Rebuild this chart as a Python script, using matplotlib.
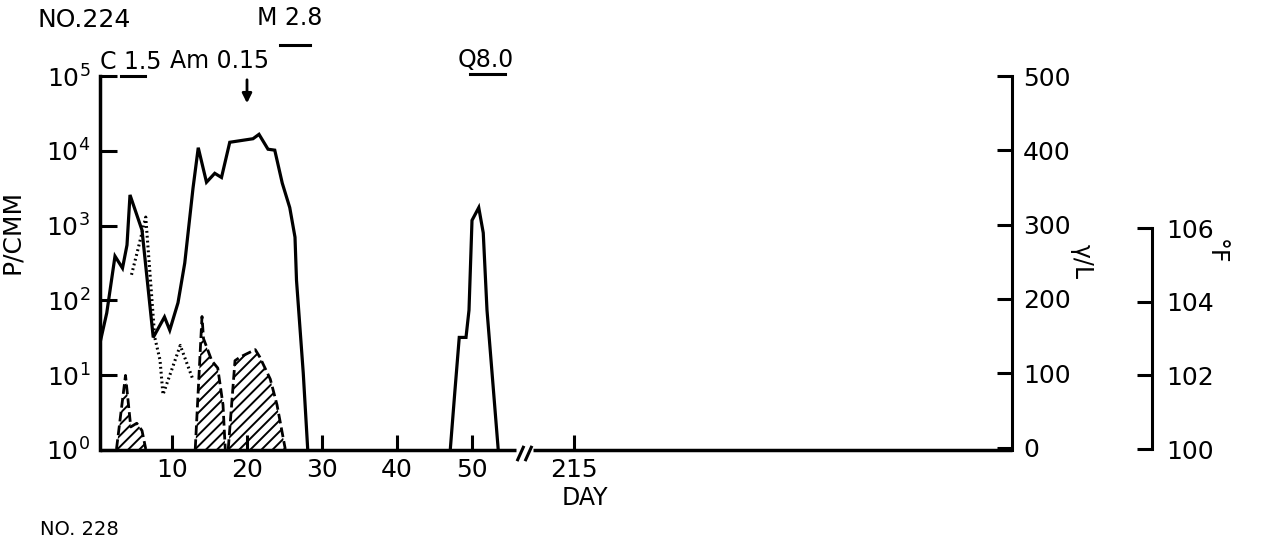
import numpy as np
import matplotlib
matplotlib.use("Agg")
import matplotlib.pyplot as plt

# ---------------- data ----------------
# asexual parasites per cmm (solid line)
par_day = [0.4, 1.3, 2.4, 3.4, 4.0, 4.4, 6.0, 7.5, 9.0, 9.7, 10.8, 11.7, 12.8, 13.5,
           14.6, 15.7, 16.6, 17.7, 20.8, 21.6, 22.8, 23.7, 24.7, 25.7, 26.4, 26.6,
           27.5, 28.1]
par_val = [27, 68, 390, 270, 550, 2570, 870, 32, 60, 40, 93, 316, 3160, 11000,
           3800, 5000, 4400, 13000, 14500, 16600, 10500, 10200, 3700, 1740, 700, 186,
           10.7, 1]
# relapse
rel_day = [47.1, 47.7, 48.3, 49.2, 49.6, 50.0, 50.9, 51.5, 52.0, 53.5]
rel_val = [1, 5.8, 32, 32, 74, 1175, 1740, 800, 74, 1]
# gametocytes (dotted line)
gam_day = [4.6, 5.5, 6.5, 7.7, 8.4, 8.8, 11.1, 12.8]
gam_val = [220, 500, 1300, 32, 16, 5.5, 25, 8.7]
# temperature, deg F (hatched, dashed)
fev1_day = [2.6, 3.8, 4.5, 5.3, 6.0, 6.5]
fev1_val = [100.0, 102.0, 100.6, 100.7, 100.5, 100.0]
fev2_day = [13.1, 14.0, 14.2, 15.3, 16.1, 16.8, 17.1]
fev2_val = [100.0, 103.6, 103.0, 102.4, 102.2, 101.2, 100.0]
fev3_day = [17.5, 18.4, 19.1, 21.1, 21.7, 23.1, 24.0, 25.1]
fev3_val = [100.0, 102.4, 102.5, 102.7, 102.5, 101.9, 101.2, 100.0]

x_ticks = [10, 20, 30, 40, 50, 215]
x_ticklabels = ["10", "20", "30", "40", "50", "215"]
y_ticks = [1, 10, 100, 1000, 1e4, 1e5]
y_ticklabels = [r"$10^0$", r"$10^1$", r"$10^2$", r"$10^3$", r"$10^4$", r"$10^5$"]
gl_ticks = [0, 100, 200, 300, 400, 500]
f_ticks = [100, 102, 104, 106]

# drug courses
c_course = [3.2, 6.4]
m_course = [24.4, 28.4]
q_course = [49.7, 54.4]
am_day = 20

# ---------------- figure ----------------
W, H = 1264, 541
fig = plt.figure(figsize=(W / 100, H / 100), dpi=100)
plt.rcParams['hatch.linewidth'] = 1.4
FS = 17
TFS = 18


def fx(px):
    return px / W


def fy(py):
    return 1 - py / H


ax = fig.add_axes([fx(100), fy(450), (1012 - 100) / W, (450 - 76) / H])

GAP = 57.0
OFF = 151.4


def fwd(d):
    d = np.asarray(d, dtype=float)
    return np.where(d <= GAP, d, np.maximum(d - OFF, GAP))


def inv(x):
    x = np.asarray(x, dtype=float)
    return np.where(x <= GAP, x, x + OFF)


ax.set_xscale('function', functions=(fwd, inv))
ax.set_yscale('log')
ax.set_xlim(0.4, 273.4)
ax.set_ylim(1, 1e5)

LW = 2.3
ax.plot(par_day, par_val, color='black', lw=LW, solid_joinstyle='miter')
ax.plot(rel_day, rel_val, color='black', lw=LW, solid_joinstyle='miter')
ax.plot(gam_day, gam_val, color='black', lw=2.2, linestyle=(0, (0.6, 1.0)),
        dash_capstyle='butt')

for s in ['top', 'right', 'bottom']:
    ax.spines[s].set_visible(False)
ax.spines['left'].set_linewidth(2.5)

# bottom axis with break
xt = ax.get_xaxis_transform()
ax.plot([0.4, 55.9], [0, 0], transform=xt, color='black', lw=2.5, clip_on=False,
        solid_capstyle='butt')
ax.plot([209.5, 273.4], [0, 0], transform=xt, color='black', lw=2.5, clip_on=False,
        solid_capstyle='butt')
for bx in [56.4, 208.8]:
    ax.plot([bx], [-0.008], transform=xt, marker=[(-0.45, -1), (0.45, 1)],
            markersize=11, mew=2.2, color='black', clip_on=False)

ax.set_xticks(x_ticks)
ax.set_xticklabels(x_ticklabels)
ax.xaxis.set_minor_locator(matplotlib.ticker.NullLocator())
ax.tick_params(axis='x', direction='in', length=11, width=2.2, labelsize=TFS, pad=6)
ax.set_yticks(y_ticks)
ax.set_yticklabels(y_ticklabels)
ax.yaxis.set_minor_locator(matplotlib.ticker.NullLocator())
ax.tick_params(axis='y', direction='in', length=12, width=2.2, labelsize=TFS, pad=7)
ax.set_ylabel("P/CMM", fontsize=TFS)
ax.yaxis.set_label_coords(-0.083, 0.583)
ax.set_xlabel("DAY", fontsize=FS)
ax.xaxis.set_label_coords((585 - 100) / 912, -(486 - 450) / 374)

# gamma / L axis
ax2 = ax.twinx()
ax2.set_ylim(-3.3, 500)
for s in ['top', 'left', 'bottom']:
    ax2.spines[s].set_visible(False)
ax2.spines['right'].set_linewidth(2.2)
ax2.set_yticks(gl_ticks)
ax2.tick_params(axis='y', direction='in', length=11, width=2.2, labelsize=TFS, pad=8)
ax2.set_ylabel("γ/L", fontsize=FS, rotation=-90)
ax2.yaxis.set_label_coords(1.09, 0.503)

# temperature axis
ax3 = ax.twinx()
ppd = (451 - 229) / 6.0
ax3.set_ylim(100 - 1 / ppd, 100 + (451 - 76) / ppd)
for s in ['top', 'left', 'bottom']:
    ax3.spines[s].set_visible(False)
ax3.spines['right'].set_position(('axes', (1152 - 100) / 912))
ax3.spines['right'].set_bounds(100, 106)
ax3.spines['right'].set_linewidth(2.2)
ax3.set_yticks(f_ticks)
ax3.tick_params(axis='y', direction='in', length=11, width=2.2, labelsize=TFS, pad=10)
ax3.set_ylabel("°F", fontsize=FS, rotation=-90)
ax3.yaxis.set_label_coords((1228 - 100) / 912, 0.53)

for d, v in [(fev1_day, fev1_val), (fev2_day, fev2_val), (fev3_day, fev3_val)]:
    ax3.fill_between(d, 100, v, facecolor='none', edgecolor='black', hatch='///', lw=0)
    ax3.plot(d, v, color='black', lw=2.0, linestyle=(0, (3.5, 1.5)))

# annotations (treatments)
fig.text(fx(100), fy(62), "C 1.5", fontsize=FS, ha='left', va='center')
fig.text(fx(170), fy(61), "Am 0.15", fontsize=FS, ha='left', va='center')
fig.text(fx(257), fy(18), "M 2.8", fontsize=FS, ha='left', va='center')
fig.text(fx(458), fy(60), "Q8.0", fontsize=FS, ha='left', va='center')
fig.text(fx(38), fy(20), "NO.224", fontsize=FS + 1, ha='left', va='center')
fig.text(fx(40), fy(539), "NO. 228", fontsize=14, ha='left', va='bottom')

ytop = matplotlib.transforms.blended_transform_factory(ax.transData, fig.transFigure)
ax.plot(c_course, [fy(76)] * 2, transform=ytop, color='black', lw=2.2, clip_on=False)
ax.plot(m_course, [fy(45)] * 2, transform=ytop, color='black', lw=2.2, clip_on=False)
ax.plot(q_course, [fy(74)] * 2, transform=ytop, color='black', lw=2.2, clip_on=False)
ax.annotate("", xy=(am_day, fy(106)), xytext=(am_day, fy(77)), xycoords=ytop,
            textcoords=ytop, arrowprops=dict(arrowstyle='-|>', color='black', lw=2,
                                             mutation_scale=14))

fig.savefig("out.png", dpi=100)
